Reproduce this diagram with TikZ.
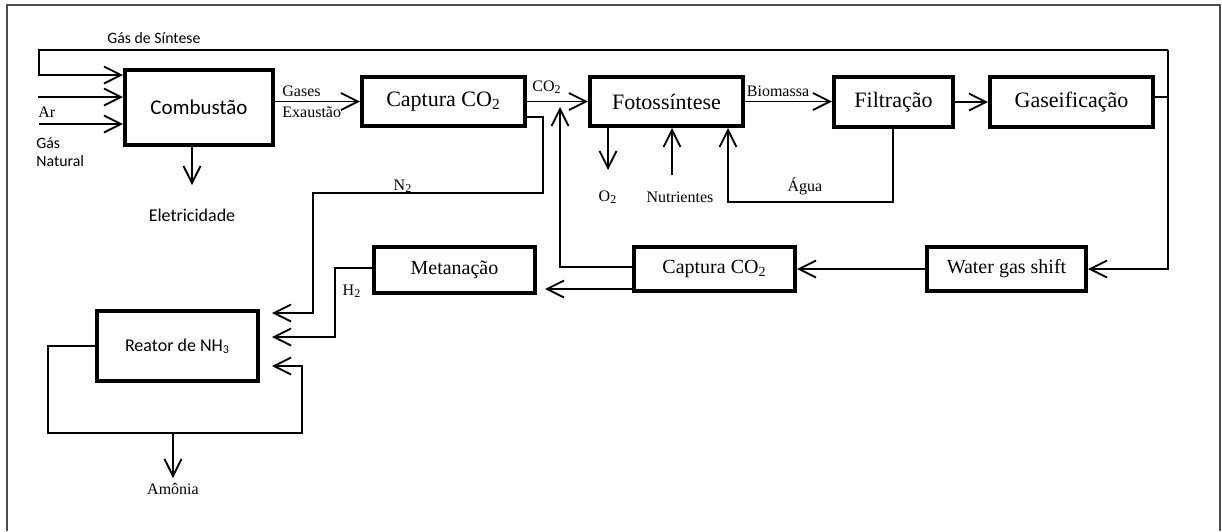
\documentclass[tikz,border=0pt]{standalone}
\usepackage{fontspec}
\setmainfont{Liberation Serif}
\newfontfamily\calib{Carlito}
\usetikzlibrary{arrows.meta}
\tikzset{
  box/.style={draw, line width=2pt, inner sep=0pt, font=\fontsize{11}{12}\selectfont},
  conn/.style={draw, line width=0.9pt},
  arr/.style={conn, -{Straight Barb[length=8.5pt,width=8.5pt,line width=0.9pt]}},
  lbl/.style={inner sep=0pt, font=\fontsize{8}{9}\selectfont},
  slbl/.style={inner sep=0pt, font=\calib\fontsize{7.9}{9}\selectfont},
}
\begin{document}
\begin{tikzpicture}[x=0.5pt,y=-0.5pt]
\useasboundingbox (0,0) rectangle (1222,531);
% frame
\draw[line width=1pt, gray!60!black] (7,531) -- (7,5) -- (1220,5) -- (1220,531);
% boxes
\node[box, font=\calib\fontsize{10.5}{12}\selectfont, minimum width=74pt, minimum height=37.5pt] (comb) at (199,107.5) {Combustão};
\node[box, minimum width=81.5pt, minimum height=24.5pt] (cap1) at (443.5,101.5) {Captura CO\textsubscript{2}};
\node[box, minimum width=76.5pt, minimum height=24.5pt] (foto) at (666.5,101.5) {Fotossíntese};
\node[box, minimum width=59.5pt, minimum height=25pt] (filt) at (893.5,102) {Filtração};
\node[box, minimum width=81.5pt, minimum height=25pt] (gas) at (1071.5,102) {Gaseificação};
\node[box, font=\fontsize{10}{12}\selectfont, minimum width=79.5pt, minimum height=22pt] (wgs) at (1006.5,269) {Water gas shift};
\node[box, font=\fontsize{10}{12}\selectfont, minimum width=80.5pt, minimum height=22pt] (cap2) at (714.5,269) {Captura CO$_{\mathrm{2}}$};
\node[box, font=\fontsize{10}{12}\selectfont, minimum width=80.5pt, minimum height=23pt] (met) at (454.5,270) {Metanação};
\node[box, font=\calib\fontsize{9}{11}\selectfont, minimum width=80.5pt, minimum height=35pt] (reac) at (177.5,346) {Reator de NH\textsubscript{3}};
% coordinates
\coordinate (j1) at (1168,97);
\coordinate (tr) at (1168,50);
\coordinate (tl) at (39,50);
\coordinate (in1) at (39,75);
\coordinate (in2) at (38,97);
\coordinate (in3) at (39,124);
\coordinate (el) at (192,185);
\coordinate (n2a) at (543,117);
\coordinate (n2b) at (543,193);
\coordinate (n2c) at (313,193);
\coordinate (n2d) at (313,313);
\coordinate (co2up) at (560,107);
\coordinate (co2b) at (560,267);
\coordinate (o2) at (608,170);
\coordinate (nut) at (672,175);
\coordinate (aga) at (893,202);
\coordinate (agb) at (728,202);
\coordinate (h2a) at (335,268);
\coordinate (h2b) at (335,337);
\coordinate (la) at (48,346);
\coordinate (lb) at (48,433);
\coordinate (lc) at (302,433);
\coordinate (ld) at (302,366);
\coordinate (am) at (173,433);
\coordinate (amb) at (173,478);
\coordinate (cap2a) at (632,289);
% connectors
\draw[conn] (j1 -| gas.east) -- (j1);
\draw[arr] (tr) -- (tl) -- (in1) -- (in1 -| comb.west);
\draw[arr] (tr) |- (wgs.east);
\draw[arr] (in2) -- (in2 -| comb.west);
\draw[arr] (in3) -- (in3 -| comb.west);
\draw[arr] (comb.south -| el) -- (el);
\draw[arr] (cap1.west -| comb.east) -- (cap1.west);
\draw[arr] (cap1.east) -- (foto.west);
\draw[arr, shorten >=6pt] (n2a -| cap1.east) -- (n2a) -- (n2b) -- (n2c) -- (n2d) -- (n2d -| reac.east);
\draw[arr] (co2b -| cap2.west) -- (co2b) -- (co2up);
\draw[arr] (foto.south -| o2) -- (o2);
\draw[arr] (nut) -- (nut |- foto.south);
\draw[arr] (filt.south -| aga) -- (aga) -- (agb) -- (agb |- foto.south);
\draw[arr] (foto.east) -- (foto.east -| filt.west);
\draw[arr] (filt.east) -- (filt.east -| gas.west);
\draw[arr] (wgs.west) -- (cap2.east);
\draw[arr, shorten >=4pt] (cap2a -| cap2.west) -- (cap2a -| met.east);
\draw[arr, shorten >=6pt] (h2a -| met.west) -- (h2a) -- (h2b) -- (h2b -| reac.east);
\draw[arr, shorten >=6pt] (la -| reac.west) -- (la) -- (lb) -- (lc) -- (ld) -- (ld -| reac.east);
\draw[arr] (am) -- (amb);
% labels
\node[slbl, anchor=west] (tgs) at (107,38) {Gás de Síntese};
\node[lbl, anchor=west] (tar) at (38,112) {Ar};
\node[slbl, anchor=north west, align=left] (tgn) at (36,137) {Gás\\Natural};
\node[lbl, anchor=west] (tga) at (282,91) {Gases};
\node[lbl, anchor=west] (tge) at (282,112) {Exaustão};
\node[inner sep=0pt, font=\calib\fontsize{9}{11}\selectfont] (tel) at (192,215) {Eletricidade};
\node[lbl] (tco2) at (547,87) {CO$_{\mathrm{2}}$};
\node[lbl] (tn2) at (403,186) {N\textsubscript{2}};
\node[lbl] (to2) at (608,197) {O$_{\mathrm{2}}$};
\node[lbl] (tnut) at (680,197) {Nutrientes};
\node[lbl] (tagua) at (805,186) {Água};
\node[lbl] (tbio) at (778,91) {Biomassa};
\node[lbl] (th2) at (352,291) {H$_{\mathrm{2}}$};
\node[lbl] (tam) at (173,489) {Amônia};
\end{tikzpicture}
\end{document}
